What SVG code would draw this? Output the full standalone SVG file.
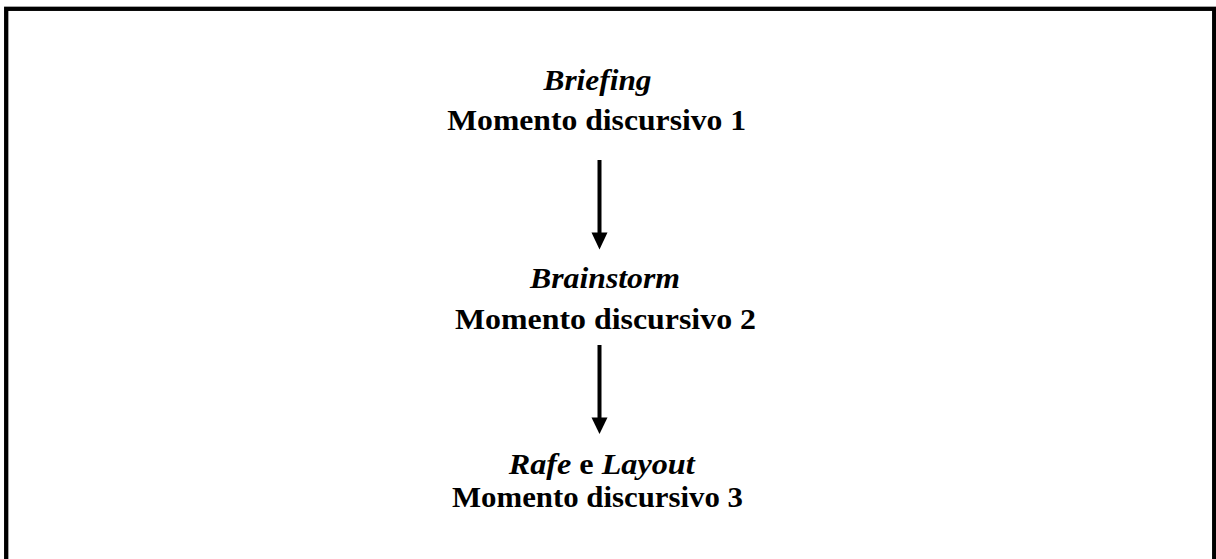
<svg xmlns="http://www.w3.org/2000/svg" width="1216" height="559" viewBox="0 0 1216 559">
  <defs>
    <style>
      .lbl { font-family: "Liberation Serif", "Times New Roman", serif; font-size: 30px; font-weight: bold; fill: #000; text-anchor: middle; }
      .it { font-style: italic; }
      .conn { stroke: #000; stroke-width: 4; fill: none; }
      .head { fill: #000; }
    </style>
  </defs>
  <rect x="0" y="0" width="1216" height="559" fill="#fff"/>
  <rect id="frame" x="6.2" y="8.8" width="1208" height="600" fill="none" stroke="#000" stroke-width="4.3"/>

  <g id="node1">
    <text class="lbl it" x="597.5" y="89.5" textLength="108" lengthAdjust="spacingAndGlyphs">Briefing</text>
    <text class="lbl" x="596.7" y="130" textLength="299" lengthAdjust="spacingAndGlyphs">Momento discursivo 1</text>
  </g>
  <g id="node2">
    <text class="lbl it" x="605" y="287.5" textLength="150" lengthAdjust="spacingAndGlyphs">Brainstorm</text>
    <text class="lbl" x="605.5" y="329" textLength="301" lengthAdjust="spacingAndGlyphs">Momento discursivo 2</text>
  </g>
  <g id="node3">
    <text class="lbl" x="601.7" y="473.5" textLength="186" lengthAdjust="spacingAndGlyphs"><tspan class="it">Rafe</tspan> e <tspan class="it">Layout</tspan></text>
    <text class="lbl" x="597.5" y="506.8" textLength="291" lengthAdjust="spacingAndGlyphs">Momento discursivo 3</text>
  </g>

  <g id="connectors">
    <line class="conn" x1="599.5" y1="160" x2="599.5" y2="234"/>
    <polygon class="head" points="591.5,232.5 607.5,232.5 599.5,249.5"/>
    <line class="conn" x1="599.5" y1="345" x2="599.5" y2="419"/>
    <polygon class="head" points="591.5,417.5 607.5,417.5 599.5,434"/>
  </g>
</svg>
